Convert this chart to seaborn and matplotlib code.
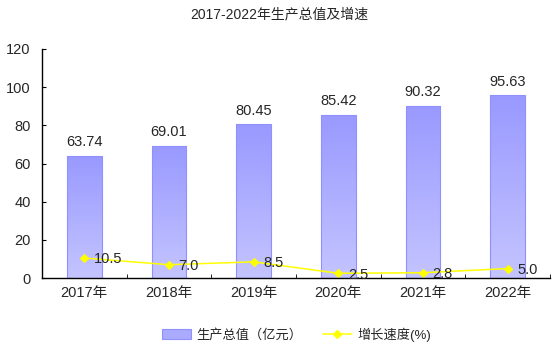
import numpy as np
import matplotlib
matplotlib.use('Agg')
import matplotlib.pyplot as plt
import seaborn as sns
from matplotlib.patches import Patch
from matplotlib.lines import Line2D
from matplotlib.colors import LinearSegmentedColormap

# data
years = ['2017年', '2018年', '2019年', '2020年', '2021年', '2022年']
output_value = [63.74, 69.01, 80.45, 85.42, 90.32, 95.63]
growth_rate = [10.5, 7.0, 8.5, 2.5, 2.8, 5.0]

sns.set_style('white')
plt.rcParams['font.family'] = ['Liberation Sans', 'Noto Sans CJK SC']
plt.rcParams['font.size'] = 10

fig = plt.figure(figsize=(5.59, 3.52), dpi=100)
ax = fig.add_axes([0.075, 0.21, 0.909, 0.651])

sns.barplot(x=years, y=output_value, ax=ax, width=0.41, color='#aaaaff',
            edgecolor='#9090ff', linewidth=0.8)

# gradient fill for bars
cmap = LinearSegmentedColormap.from_list('bar', ['#c4c4ff', '#9999ff'])
grad = np.linspace(0, 1, 256).reshape(-1, 1)
for p in list(ax.patches):
    x0, y0 = p.get_x(), p.get_y()
    w, h = p.get_width(), p.get_height()
    im = ax.imshow(grad, extent=[x0, x0 + w, y0, y0 + h], origin='lower',
                   cmap=cmap, aspect='auto', zorder=p.get_zorder())
    im.set_clip_path(p)
    p.set_facecolor('none')
    p.set_zorder(p.get_zorder() + 0.1)

sns.pointplot(x=years, y=growth_rate, ax=ax, color='#ffff00', markers='D',
              markersize=4, linewidth=1.1)

for i, v in enumerate(output_value):
    ax.annotate(f'{v:.2f}', (i, v), xytext=(0, 5), textcoords='offset points',
                ha='center', va='bottom', fontsize=10.5)
for i, v in enumerate(growth_rate):
    ax.annotate(f'{v:.1f}', (i, v), xytext=(7, -1), textcoords='offset points',
                ha='left', va='center', fontsize=10.5)

ax.set_xlim(-0.5, 5.5)
ax.set_ylim(0, 120)
ax.set_yticks(range(0, 121, 20))
ax.set_xticks(range(len(years)))
ax.set_xticks(np.arange(-0.5, 6, 1), minor=True)
ax.tick_params(axis='x', which='major', length=0, pad=6, labelsize=10.5)
ax.tick_params(axis='x', which='minor', direction='in', length=3, color='black', bottom=True)
ax.tick_params(axis='y', direction='in', length=3, pad=8, color='black', left=True, labelsize=10.5)
ax.set_xlabel('')
ax.set_ylabel('')
for s in ['top', 'right']:
    ax.spines[s].set_visible(False)
for s in ['left', 'bottom']:
    ax.spines[s].set_color('black')
    ax.spines[s].set_linewidth(1)

fig.suptitle('2017-2022年生产总值及增速', fontsize=10, y=0.98)

handles = [Patch(facecolor='#aaaaff', edgecolor='#9090ff', linewidth=0.8),
           Line2D([0], [0], color='#ffff00', marker='D', markersize=4, linewidth=1.1)]
fig.legend(handles, ['生产总值（亿元）', '增长速度(%)'], loc='center',
           bbox_to_anchor=(0.53, 0.05), ncol=2, frameon=False, fontsize=9.5,
           handlelength=2.2, handletextpad=0.4, columnspacing=1.6)

fig.savefig('out.png', dpi=100)
